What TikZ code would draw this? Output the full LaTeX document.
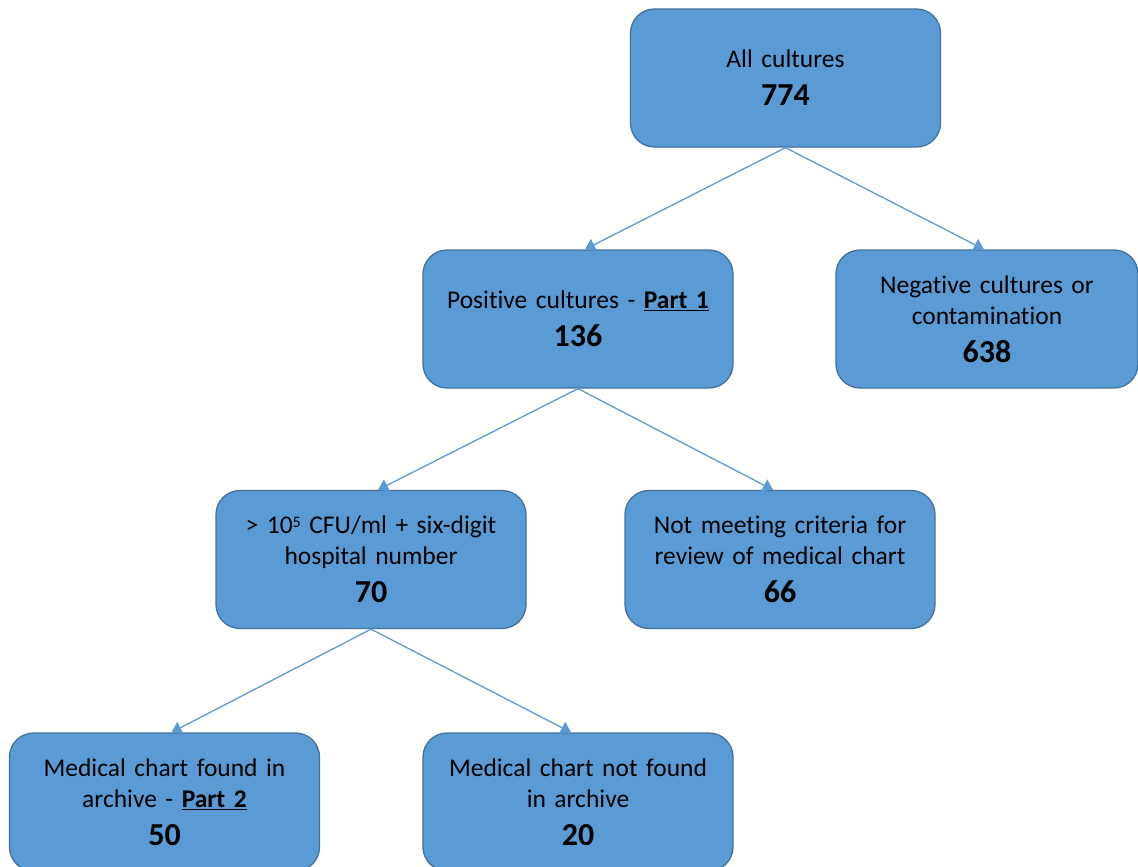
\documentclass[tikz,border=0pt]{standalone}
\usepackage{fontspec}
\setmainfont{Carlito}[Ligatures=NoCommon, WordSpace=0.75]
\usetikzlibrary{arrows.meta}
\definecolor{boxfill}{HTML}{5B9BD5}
\definecolor{boxline}{HTML}{41719C}
\definecolor{conn}{HTML}{5B9BD5}
\tikzset{
  flowbox/.style={draw=boxline, line width=1.3pt, fill=boxfill, rounded corners=24pt,
    minimum width=310pt, minimum height=138pt, text width=300pt, align=center,
    font=\fontsize{25.5}{31}\selectfont, inner sep=0pt},
  conn/.style={draw=conn, line width=1.3pt, -{Triangle[width=13pt,length=10pt]}}
}
\newcommand{\bignum}[1]{\\[7pt]{\fontsize{32}{31}\selectfont\bfseries #1}}
\newcommand{\supfive}{{\fontsize{16}{16}\selectfont\raisebox{6.5pt}{5}}}
\begin{document}
\begin{tikzpicture}[x=1pt,y=-1pt]
\useasboundingbox (0,0) rectangle (1138,867);
\begin{scope}
\clip (0,0) rectangle (1138,867);
\node[flowbox] (all) at (785.5,78) {All cultures\bignum{774}};
\node[flowbox] (pos) at (578,319) {Positive cultures - \textbf{\underline{Part 1}}\bignum{136}};
\node[flowbox, minimum width=302pt] (neg) at (987,319) {Negative cultures or\\contamination\bignum{638}};
\node[flowbox] (high) at (371,559.5) {{>} 10\supfive{} CFU/ml + six-digit\\hospital number\bignum{70}};
\node[flowbox] (notmeet) at (780,559.5) {Not meeting criteria for\\review of medical chart\bignum{66}};
\node[flowbox] (found) at (164.5,802) {Medical chart found in\\archive - \textbf{\underline{Part 2}}\bignum{50}};
\node[flowbox] (notfound) at (578,802) {Medical chart not found\\in archive\bignum{20}};
\end{scope}
\draw[conn] (all.south) -- ([xshift=7pt]pos.north);
\draw[conn] (all.south) -- ([xshift=-3pt]neg.north);
\draw[conn] (pos.south) -- ([xshift=7pt]high.north);
\draw[conn] (pos.south) -- ([xshift=-7pt]notmeet.north);
\draw[conn] (high.south) -- ([xshift=7pt]found.north);
\draw[conn] (high.south) -- ([xshift=-7pt]notfound.north);
\end{tikzpicture}
\end{document}
